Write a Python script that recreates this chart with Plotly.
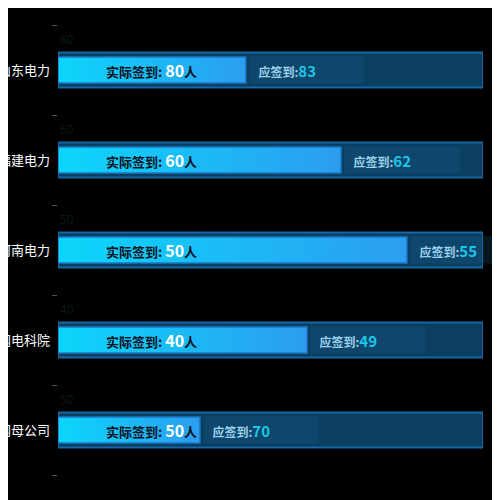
import plotly.graph_objects as go

# Data
categories = ["国网山东电力", "国网福建电力", "国网河南电力", "国网电科院", "国网母公司"]
actual = [80, 60, 50, 40, 50]
expected = [83, 62, 55, 49, 70]
bar_pct = [44.2, 66.6, 82.1, 58.6, 33.4]   # drawn length of the actual bar, % of track

FONT = "Noto Sans CJK SC"
TRACK_MAX = 100
LABEL_X = 22.1
INNER_HALF = 0.145

fig = go.Figure()

# background track
fig.add_trace(go.Bar(
    y=list(range(len(categories))),
    x=[TRACK_MAX] * len(categories),
    orientation="h",
    width=0.39,
    marker=dict(color="#0a3f62", line=dict(color="#1767a5", width=2)),
    hoverinfo="skip",
    showlegend=False,
))

# gradient bars for actual sign-ins
for i, v in enumerate(bar_pct):
    fig.add_trace(go.Scatter(
        x=[0, v, v, 0, 0],
        y=[i - INNER_HALF, i - INNER_HALF, i + INNER_HALF, i + INNER_HALF, i - INNER_HALF],
        mode="lines",
        fill="toself",
        fillgradient=dict(type="horizontal",
                          colorscale=[[0, "#0cd6fb"], [1, "#2c9df0"]]),
        line=dict(color="#1c78c4", width=1.5),
        hoverinfo="skip",
        showlegend=False,
    ))

annotations = []
for i, (a, e, v) in enumerate(zip(actual, expected, bar_pct)):
    annotations.append(dict(
        x=LABEL_X, y=i, xref="x", yref="y", showarrow=False,
        text=f"<b>实际签到: <span style='color:#ffffff;font-size:16px'>{a}</span>人</b>",
        font=dict(family=FONT, size=13, color="#07131f"),
    ))
    annotations.append(dict(
        x=v, y=i, xref="x", yref="y", showarrow=False,
        xanchor="left", xshift=3, align="left",
        width=108, height=20, borderpad=3,
        bgcolor="rgba(30,100,140,0.22)",
        text=f"&nbsp;&nbsp;<b>应签到:<span style='color:#1cc6e8;font-size:15px'>{e}</span></b>",
        font=dict(family=FONT, size=12, color="#9dd2ee"),
    ))
    annotations.append(dict(
        x=0, y=i - 0.5, xref="paper", yref="y", showarrow=False,
        xanchor="left", yshift=-13, text=str(a),
        font=dict(family=FONT, size=12, color="#0b1a12"),
    ))

fig.update_layout(
    width=500, height=500,
    margin=dict(l=50, r=25, t=17, b=33),
    paper_bgcolor="#000000",
    plot_bgcolor="#000000",
    barmode="overlay",
    annotations=annotations,
)
fig.update_xaxes(range=[0, TRACK_MAX], visible=False, fixedrange=True, automargin=False)
fig.update_yaxes(
    range=[len(categories) - 0.5, -0.5],
    tickvals=list(range(len(categories))),
    ticktext=categories,
    ticks="",
    automargin=False,
    showgrid=False, zeroline=False, showline=False,
    ticklabelstandoff=7,
    tickfont=dict(family=FONT, size=13, color="#ffffff"),
    minor=dict(tickvals=[k - 0.5 for k in range(len(categories) + 1)],
               ticks="outside", ticklen=5, tickcolor="#555555", showgrid=False),
)

fig.write_html("out.html")
